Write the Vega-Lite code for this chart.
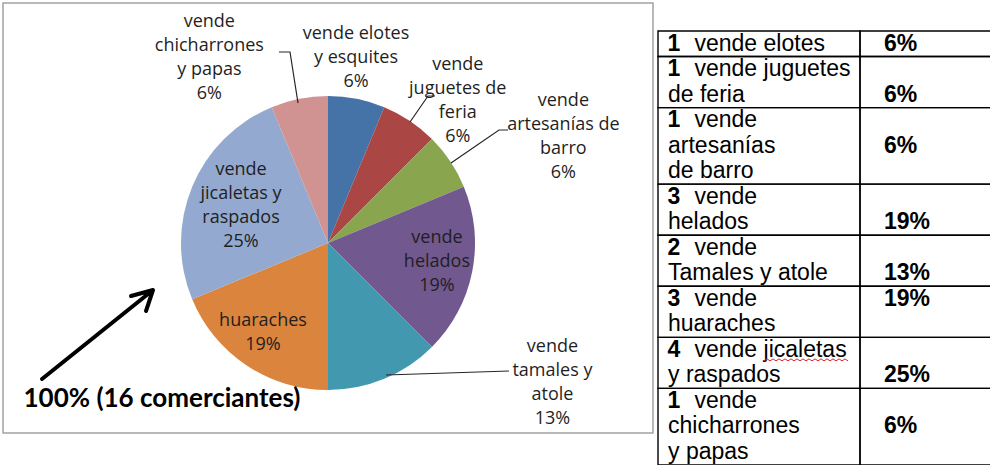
{
  "$schema": "https://vega.github.io/schema/vega-lite/v6.json",
  "padding": {"left": 2, "top": 2, "right": 0, "bottom": 0},
  "background": "white",
  "spacing": 3,
  "config": {
    "view": {"stroke": null},
    "axis": {"disable": true},
    "legend": {"disable": true}
  },
  "datasets": {
    "pie": [
      {"giro": "elotes", "orden": 1, "comerciantes": 1, "etiqueta": "vende elotes\ny esquites\n6%"},
      {"giro": "juguetes", "orden": 2, "comerciantes": 1, "etiqueta": "vende\njuguetes de\nferia\n6%"},
      {"giro": "artesanias", "orden": 3, "comerciantes": 1, "etiqueta": "vende\nartesanías de\nbarro\n6%"},
      {"giro": "helados", "orden": 4, "comerciantes": 3, "etiqueta": "vende\nhelados\n19%"},
      {"giro": "tamales", "orden": 5, "comerciantes": 2, "etiqueta": "vende\ntamales y\natole\n13%"},
      {"giro": "huaraches", "orden": 6, "comerciantes": 3, "etiqueta": "huaraches\n19%"},
      {"giro": "jicaletas", "orden": 7, "comerciantes": 4, "etiqueta": "vende\njicaletas y\nraspados\n25%"},
      {"giro": "chicharrones", "orden": 8, "comerciantes": 1, "etiqueta": "vende\nchicharrones\ny papas\n6%"}
    ],
    "tabla": [
      {"fila": 1, "n": "1", "texto": "vende elotes", "pct": "6%"},
      {"fila": 2, "n": "1", "texto": "vende juguetes", "pct": ""},
      {"fila": 2, "n": "", "texto": "de feria", "pct": "6%"},
      {"fila": 3, "n": "1", "texto": "vende", "pct": ""},
      {"fila": 3, "n": "", "texto": "artesanías", "pct": "6%"},
      {"fila": 3, "n": "", "texto": "de barro", "pct": ""},
      {"fila": 4, "n": "3", "texto": "vende", "pct": ""},
      {"fila": 4, "n": "", "texto": "helados", "pct": "19%"},
      {"fila": 5, "n": "2", "texto": "vende", "pct": ""},
      {"fila": 5, "n": "", "texto": "Tamales y atole", "pct": "13%"},
      {"fila": 6, "n": "3", "texto": "vende", "pct": "19%"},
      {"fila": 6, "n": "", "texto": "huaraches", "pct": ""},
      {"fila": 7, "n": "4", "texto": "vende jicaletas", "pct": ""},
      {"fila": 7, "n": "", "texto": "y raspados", "pct": "25%"},
      {"fila": 8, "n": "1", "texto": "vende", "pct": ""},
      {"fila": 8, "n": "", "texto": "chicharrones", "pct": "6%"},
      {"fila": 8, "n": "", "texto": "y papas", "pct": ""}
    ]
  },
  "hconcat": [
    {
      "width": 650,
      "height": 430,
      "view": {"stroke": "#a3a3a3", "strokeWidth": 1.5},
      "layer": [
        {
          "data": {"name": "pie"},
          "transform": [{"stack": "comerciantes", "groupby": [], "sort": [{"field": "orden", "order": "ascending"}], "as": ["ang0", "ang1"]}],
          "mark": {"type": "arc", "outerRadius": 147},
          "encoding": {
            "theta": {"field": "ang0", "type": "quantitative", "scale": {"domain": [0, 16]}},
            "theta2": {"field": "ang1"},
            "color": {
              "field": "giro", "type": "nominal", "legend": null,
              "scale": {
                "domain": ["elotes", "juguetes", "artesanias", "helados", "tamales", "huaraches", "jicaletas", "chicharrones"],
                "range": ["#4572A7", "#AA4643", "#89A54E", "#71588F", "#4198AF", "#DB843D", "#93A9CF", "#D19392"]
              }
            },
            "x": {"datum": 0, "type": "quantitative", "stack": null, "axis": null, "scale": {"domain": [-325, 325], "nice": false, "zero": false}},
            "y": {"datum": 0, "type": "quantitative", "stack": null, "axis": null, "scale": {"domain": [-240, 190], "nice": false, "zero": false, "reverse": true}}
          }
        },
        {
          "data": {"name": "pie"},
          "transform": [{"stack": "comerciantes", "groupby": [], "sort": [{"field": "orden", "order": "ascending"}], "as": ["ang0", "ang1"]}, {"filter": "datum.giro === 'elotes'"}],
          "mark": {"type": "text", "radius": 185, "dx": 28, "dy": 1, "font": "Open Sans", "fontSize": 18, "lineBreak": "\n", "lineHeight": 24, "align": "center", "baseline": "middle", "color": "#1f1f1f"},
          "encoding": {"theta": {"field": "ang0", "type": "quantitative"}, "text": {"field": "etiqueta", "type": "nominal"}}
        },
        {
          "data": {"name": "pie"},
          "transform": [{"stack": "comerciantes", "groupby": [], "sort": [{"field": "orden", "order": "ascending"}], "as": ["ang0", "ang1"]}, {"filter": "datum.giro === 'juguetes'"}],
          "mark": {"type": "text", "radius": 192, "dx": -6, "dy": -17, "font": "Open Sans", "fontSize": 18, "lineBreak": "\n", "lineHeight": 24, "align": "center", "baseline": "middle", "color": "#1f1f1f"},
          "encoding": {"theta": {"field": "ang1", "type": "quantitative"}, "text": {"field": "etiqueta", "type": "nominal"}}
        },
        {
          "data": {"name": "pie"},
          "transform": [{"stack": "comerciantes", "groupby": [], "sort": [{"field": "orden", "order": "ascending"}], "as": ["ang0", "ang1"]}, {"filter": "datum.giro === 'artesanias'"}],
          "mark": {"type": "text", "radius": 258, "dx": -3, "dy": -18, "font": "Open Sans", "fontSize": 18, "lineBreak": "\n", "lineHeight": 24, "align": "center", "baseline": "middle", "color": "#1f1f1f"},
          "encoding": {"theta": {"field": "ang1", "type": "quantitative"}, "text": {"field": "etiqueta", "type": "nominal"}}
        },
        {
          "data": {"name": "pie"},
          "transform": [{"stack": "comerciantes", "groupby": [], "sort": [{"field": "orden", "order": "ascending"}], "as": ["ang0", "ang1"]}, {"filter": "datum.giro === 'helados'"}],
          "mark": {"type": "text", "radius": 93, "dx": 23, "dy": 56, "font": "Open Sans", "fontSize": 18, "lineBreak": "\n", "lineHeight": 24, "align": "center", "baseline": "middle", "color": "#1f1f1f"},
          "encoding": {"theta": {"field": "ang0", "type": "quantitative"}, "text": {"field": "etiqueta", "type": "nominal"}}
        },
        {
          "data": {"name": "pie"},
          "transform": [{"stack": "comerciantes", "groupby": [], "sort": [{"field": "orden", "order": "ascending"}], "as": ["ang0", "ang1"]}, {"filter": "datum.giro === 'tamales'"}],
          "mark": {"type": "text", "radius": 258, "dx": 42, "dy": -53, "font": "Open Sans", "fontSize": 18, "lineBreak": "\n", "lineHeight": 24, "align": "center", "baseline": "middle", "color": "#1f1f1f"},
          "encoding": {"theta": {"field": "ang0", "type": "quantitative"}, "text": {"field": "etiqueta", "type": "nominal"}}
        },
        {
          "data": {"name": "pie"},
          "transform": [{"stack": "comerciantes", "groupby": [], "sort": [{"field": "orden", "order": "ascending"}], "as": ["ang0", "ang1"]}, {"filter": "datum.giro === 'huaraches'"}],
          "mark": {"type": "text", "radius": 90, "dx": -65, "dy": 13, "font": "Open Sans", "fontSize": 18, "lineBreak": "\n", "lineHeight": 24, "align": "center", "baseline": "middle", "color": "#1f1f1f"},
          "encoding": {"theta": {"field": "ang0", "type": "quantitative"}, "text": {"field": "etiqueta", "type": "nominal"}}
        },
        {
          "data": {"name": "pie"},
          "transform": [{"stack": "comerciantes", "groupby": [], "sort": [{"field": "orden", "order": "ascending"}], "as": ["ang0", "ang1"]}, {"filter": "datum.giro === 'jicaletas'"}],
          "mark": {"type": "text", "radius": 66, "dx": -26, "dy": -73, "font": "Open Sans", "fontSize": 18, "lineBreak": "\n", "lineHeight": 24, "align": "center", "baseline": "middle", "color": "#1f1f1f"},
          "encoding": {"theta": {"field": "ang0", "type": "quantitative"}, "text": {"field": "etiqueta", "type": "nominal"}}
        },
        {
          "data": {"name": "pie"},
          "transform": [{"stack": "comerciantes", "groupby": [], "sort": [{"field": "orden", "order": "ascending"}], "as": ["ang0", "ang1"]}, {"filter": "datum.giro === 'chicharrones'"}],
          "mark": {"type": "text", "radius": 216, "dx": -36, "dy": 4, "font": "Open Sans", "fontSize": 18, "lineBreak": "\n", "lineHeight": 24, "align": "center", "baseline": "middle", "color": "#1f1f1f"},
          "encoding": {"theta": {"field": "ang0", "type": "quantitative"}, "text": {"field": "etiqueta", "type": "nominal"}}
        },
        {
          "data": {"values": [{"elemento": "lineas guía"}]},
          "mark": {"type": "point", "shape": "M-49,-191L-38,-191L-30,-140M82,-121L100,-147L107,-147M123,-80L171,-113L180,-113M58,132L181,128", "size": 4, "filled": false, "stroke": "#262626", "strokeWidth": 1.2, "opacity": 1},
          "encoding": {"x": {"datum": 0, "type": "quantitative"}, "y": {"datum": 0, "type": "quantitative"}}
        },
        {
          "data": {"values": [{"elemento": "flecha"}]},
          "mark": {"type": "point", "shape": "M-286,136L-175,47M-197,53L-175,47L-182,68", "size": 4, "filled": false, "stroke": "#000000", "strokeWidth": 4, "strokeCap": "round", "strokeJoin": "round", "opacity": 1},
          "encoding": {"x": {"datum": 0, "type": "quantitative"}, "y": {"datum": 0, "type": "quantitative"}}
        },
        {
          "data": {"values": [{"total": "100% (16 comerciantes)"}]},
          "mark": {"type": "text", "font": "Lato", "fontWeight": "bold", "fontSize": 26, "align": "center", "baseline": "middle", "color": "#000000"},
          "encoding": {"x": {"datum": -166, "type": "quantitative"}, "y": {"datum": 156, "type": "quantitative"}, "text": {"field": "total", "type": "nominal"}}
        }
      ]
    },
    {
      "width": 334,
      "height": 463,
      "data": {"name": "tabla"},
      "transform": [{"window": [{"op": "row_number", "as": "linea"}]}],
      "layer": [
        {
          "transform": [
            {"aggregate": [{"op": "count", "as": "lineas"}], "groupby": ["fila"]},
            {"stack": "lineas", "groupby": [], "sort": [{"field": "fila", "order": "ascending"}], "as": ["ini", "fin"]}
          ],
          "mark": {"type": "rect", "fill": "transparent", "stroke": "#000000", "strokeWidth": 1.4},
          "encoding": {
            "x": {"datum": 0, "type": "quantitative", "axis": null, "scale": {"domain": [-1, 333], "nice": false, "zero": false}},
            "x2": {"datum": 202},
            "y": {"field": "ini", "type": "quantitative", "axis": null, "scale": {"domain": [-1.097, 17.04], "nice": false, "zero": false, "reverse": true}},
            "y2": {"field": "fin"}
          }
        },
        {
          "transform": [
            {"aggregate": [{"op": "count", "as": "lineas"}], "groupby": ["fila"]},
            {"stack": "lineas", "groupby": [], "sort": [{"field": "fila", "order": "ascending"}], "as": ["ini", "fin"]}
          ],
          "mark": {"type": "rect", "fill": "transparent", "stroke": "#000000", "strokeWidth": 1.4},
          "encoding": {
            "x": {"datum": 202, "type": "quantitative"},
            "x2": {"datum": 333},
            "y": {"field": "ini", "type": "quantitative"},
            "y2": {"field": "fin"}
          }
        },
        {
          "transform": [{"filter": "datum.n !== ''"}],
          "mark": {"type": "text", "font": "Liberation Sans", "fontWeight": "bold", "fontSize": 23, "align": "left", "baseline": "alphabetic", "dy": -6, "color": "#000000"},
          "encoding": {
            "x": {"datum": 9.5, "type": "quantitative"},
            "y": {"field": "linea", "type": "quantitative"},
            "text": {"field": "n", "type": "nominal"}
          }
        },
        {
          "transform": [{"filter": "datum.n !== ''"}],
          "mark": {"type": "text", "font": "Liberation Sans", "fontSize": 23, "align": "left", "baseline": "alphabetic", "dy": -6, "color": "#000000"},
          "encoding": {
            "x": {"datum": 36.5, "type": "quantitative"},
            "y": {"field": "linea", "type": "quantitative"},
            "text": {"field": "texto", "type": "nominal"}
          }
        },
        {
          "transform": [{"filter": "datum.n === ''"}],
          "mark": {"type": "text", "font": "Liberation Sans", "fontSize": 23, "align": "left", "baseline": "alphabetic", "dy": -6, "color": "#000000"},
          "encoding": {
            "x": {"datum": 10, "type": "quantitative"},
            "y": {"field": "linea", "type": "quantitative"},
            "text": {"field": "texto", "type": "nominal"}
          }
        },
        {
          "transform": [{"filter": "datum.pct !== ''"}],
          "mark": {"type": "text", "font": "Liberation Sans", "fontWeight": "bold", "fontSize": 23, "align": "left", "baseline": "alphabetic", "dy": -6, "color": "#000000"},
          "encoding": {
            "x": {"datum": 226, "type": "quantitative"},
            "y": {"field": "linea", "type": "quantitative"},
            "text": {"field": "pct", "type": "nominal"}
          }
        },
        {
          "data": {"values": [{"elemento": "subrayado ortográfico"}]},
          "mark": {"type": "point", "shape": "M0,-2l3,-2l3,2l3,-2l3,2l3,-2l3,2l3,-2l3,2l3,-2l3,2l3,-2l3,2l3,-2l3,2l3,-2l3,2l3,-2l3,2l3,-2l3,2l3,-2l3,2l3,-2l3,2l3,-2l3,2l3,-2l3,2", "size": 4, "filled": false, "stroke": "#e02a2a", "strokeWidth": 1, "opacity": 1},
          "encoding": {"x": {"datum": 106, "type": "quantitative"}, "y": {"datum": 13, "type": "quantitative"}}
        }
      ]
    }
  ]
}
